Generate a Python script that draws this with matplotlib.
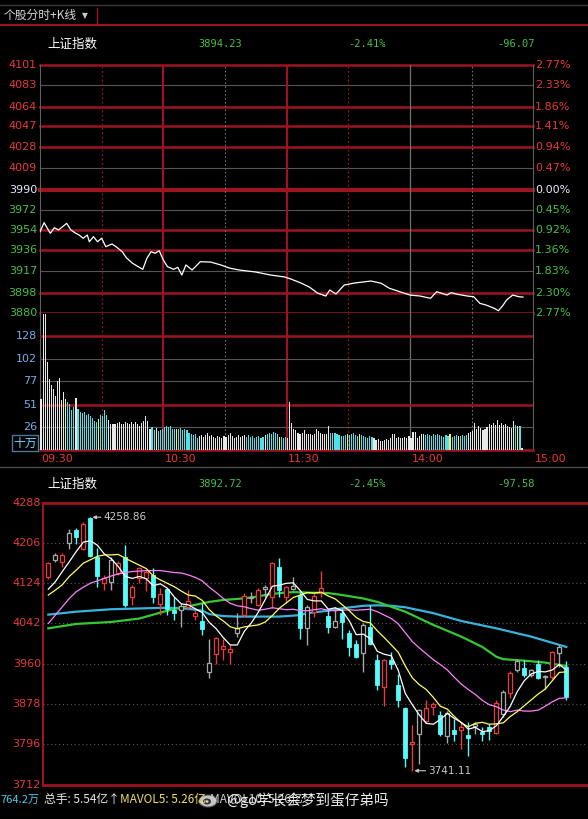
import matplotlib
matplotlib.use('Agg')
import matplotlib.pyplot as plt
from matplotlib.patches import Rectangle, Ellipse
from matplotlib.lines import Line2D

plt.rcParams['font.family'] = ['Noto Sans CJK SC', 'DejaVu Sans']

# ---- intraday (分时) data ----
intraday_levels = [4101, 4083, 4064, 4047, 4028, 4009, 3990, 3972, 3954, 3936, 3917, 3898, 3880]
intraday_pct = ['2.77%', '2.33%', '1.86%', '1.41%', '0.94%', '0.47%', '0.00%',
                '0.45%', '0.92%', '1.36%', '1.83%', '2.30%', '2.77%']
intraday_minute = [0, 2, 5, 7, 9, 13, 15, 17, 19, 21, 23, 24, 26, 28, 30, 32, 35, 37, 40, 42,
                   45, 50, 52, 54, 56, 58, 60, 62, 65, 67, 69, 71, 74, 78, 83, 88, 92, 97, 105, 112,
                   119, 122, 127, 131, 135, 139, 141, 144, 148, 153, 161, 166, 170, 180, 185, 190, 193, 198, 200, 203,
                   208, 211, 214, 217, 221, 223, 225, 227, 230, 233, 235]
intraday_price = [3952.4, 3960.5, 3951.0, 3956.0, 3954.0, 3959.9, 3954.0, 3951.5, 3949.5, 3946.6,
                  3949.5, 3943.5, 3948.0, 3943.5, 3946.6, 3939.1, 3941.5, 3939.1, 3934.6, 3929.3,
                  3924.3, 3918.9, 3928.7, 3934.6, 3933.2, 3935.5, 3927.2, 3921.3, 3918.9, 3920.7,
                  3913.9, 3922.8, 3918.3, 3925.7, 3925.4, 3922.8, 3920.1, 3918.3, 3916.5, 3913.9,
                  3912.1, 3910.3, 3906.7, 3903.2, 3897.8, 3895.1, 3900.5, 3896.9, 3904.9, 3906.7,
                  3908.5, 3906.5, 3902.0, 3896.0, 3895.1, 3893.1, 3899.0, 3896.0, 3898.1, 3896.7,
                  3895.1, 3894.5, 3888.6, 3887.1, 3884.2, 3882.0, 3886.2, 3891.6, 3896.0, 3894.5, 3894.2]
# volume per minute (十万)
minute_volume = [57, 152, 152, 99, 80, 73, 68, 60, 77, 81,
                 56, 65, 57, 54, 52, 45, 48, 58, 46, 43,
                 42, 43, 39, 40, 38, 36, 33, 31, 35, 39,
                 38, 45, 39, 34, 29, 29, 29, 30, 31, 29,
                 29, 31, 30, 29, 31, 29, 31, 29, 27, 30,
                 32, 38, 33, 24, 26, 22, 25, 21, 22, 24,
                 26, 27, 26, 27, 23, 23, 24, 24, 25, 22,
                 23, 22, 19, 18, 17, 18, 14, 16, 17, 15,
                 17, 19, 16, 17, 15, 14, 16, 15, 14, 16,
                 15, 17, 19, 16, 14, 15, 17, 15, 16, 17,
                 15, 17, 15, 16, 14, 15, 16, 14, 15, 17,
                 18, 19, 18, 20, 19, 18, 15, 15, 14, 15,
                 14, 54, 30, 24, 22, 19, 18, 19, 22, 18,
                 18, 18, 17, 18, 23, 21, 19, 18, 18, 18,
                 27, 19, 19, 19, 18, 17, 16, 16, 17, 18,
                 17, 18, 19, 17, 16, 18, 17, 16, 15, 14,
                 16, 15, 14, 11, 12, 10, 10, 11, 12, 11,
                 13, 18, 18, 14, 15, 14, 14, 15, 14, 16,
                 14, 20, 20, 14, 16, 18, 18, 17, 18, 17,
                 16, 18, 17, 18, 17, 16, 15, 17, 16, 18,
                 15, 16, 17, 16, 16, 17, 16, 17, 19, 20,
                 21, 30, 24, 27, 25, 22, 24, 26, 29, 28,
                 30, 28, 34, 28, 30, 28, 29, 27, 26, 25,
                 33, 28, 27, 27, 2]
# w = white, c = cyan, y = yellow
volume_kind = ('w' * 12 + 'y' + 'c' * 4 + 'w' + 'c' * 10 + 'y' + 'c' * 4 + 'w' * 21 + 'cc' + 'w'
               + 'c' * 9 + 'y' + 'c' * 10 + 'w' * 23 + 'c' * 9 + 'w' + 'c' * 6 + 'y' + 'c' * 3
               + 'w' * 21 + 'c' * 8 + 'y' + 'c' * 5 + 'y' + 'c' * 6 + 'w' * 25 + 'c' * 8
               + 'c' * 4 + 'y' + 'c' * 3 + 'y' + 'c' * 4 + 'w' * 23 + 'cycw')
volume_ticks = [128, 102, 77, 51, 26]
time_labels = ['09:30', '10:30', '11:30', '14:00', '15:00']
time_label_min = [0, 60, 120, 180, 240]

# ---- daily K-line data ----
k_open = [4137.6, 4171.8, 4167.0, 4206.0, 4233.3, 4194.4, 4258.0, 4177.3, 4124.0, 4127.4,
          4144.5, 4177.3, 4096.6, 4134.2, 4134.2, 4140.4, 4081.6, 4111.7, 4069.3, 4069.3,
          4074.8, 4057.0, 4046.8, 3942.9, 3980.5, 3989.4, 3983.9, 4021.6, 4059.1, 4093.2,
          4079.6, 4111.7, 4096.6, 4158.1, 4096.6, 4111.7, 4100.1, 4031.8, 4065.9, 4103.5,
          4057.0, 4035.2, 4062.5, 4021.6, 4000.6, 3981.8, 4033.9, 3968.2, 3912.2, 3966.8,
          3915.6, 3869.8, 3796.0, 3816.5, 3841.8, 3871.1, 3855.4, 3813.1, 3824.7, 3824.7,
          3814.4, 3831.5, 3819.9, 3830.1, 3817.8, 3857.5, 3899.9, 3946.3, 3951.8, 3936.1,
          3960.0, 3932.0, 3932.7, 3981.8, 3953.1]
k_high = [4168.4, 4185.5, 4185.5, 4234.7, 4236.7, 4248.3, 4258.86, 4195.7, 4141.1, 4178.6,
          4169.8, 4202.6, 4120.6, 4158.1, 4151.3, 4154.7, 4113.7, 4115.1, 4096.6, 4083.0,
          4110.3, 4069.3, 4083.0, 4011.2, 4014.6, 4011.2, 3997.6, 4062.5, 4103.5, 4106.9,
          4113.7, 4120.6, 4168.4, 4176.6, 4118.5, 4137.6, 4106.9, 4079.6, 4103.5, 4149.9,
          4069.3, 4076.1, 4072.7, 4028.3, 4007.8, 4042.0, 4079.6, 3980.5, 3970.2, 3983.9,
          3939.5, 3871.1, 3833.6, 3867.7, 3886.2, 3881.4, 3862.9, 3862.9, 3847.2, 3840.4,
          3840.4, 3840.4, 3830.1, 3835.6, 3884.9, 3905.3, 3944.9, 3970.2, 3966.8, 3949.7,
          3968.2, 3936.1, 3985.3, 3997.6, 3965.5]
k_low = [4132.9, 4168.4, 4158.1, 4193.7, 4203.9, 4192.3, 4178.6, 4117.1, 4110.3, 4110.3,
         4141.1, 4076.1, 4079.6, 4124.0, 4108.9, 4083.0, 4059.1, 4059.1, 4048.8, 4035.2,
         4069.3, 4048.8, 4018.1, 3930.6, 3960.0, 3966.8, 3958.6, 4014.6, 4055.6, 4083.0,
         4077.5, 4096.6, 4072.7, 4096.6, 4083.0, 4110.3, 4011.2, 3997.6, 4055.6, 4096.6,
         4022.9, 4031.8, 4009.2, 3975.0, 3972.3, 3942.9, 3997.6, 3905.3, 3872.5, 3949.7,
         3871.1, 3748.2, 3741.11, 3755.0, 3838.4, 3854.1, 3813.1, 3797.3, 3801.4, 3785.7,
         3772.1, 3816.5, 3801.4, 3804.2, 3816.5, 3850.6, 3890.3, 3942.9, 3932.7, 3932.7,
         3929.3, 3908.7, 3929.3, 3953.1, 3884.9]
k_close = [4165.0, 4182.1, 4182.1, 4226.5, 4218.3, 4245.6, 4180.7, 4139.0, 4134.2, 4171.8,
           4166.3, 4079.6, 4115.8, 4154.7, 4147.9, 4096.6, 4101.4, 4070.7, 4062.5, 4077.5,
           4087.8, 4062.5, 4029.7, 3962.0, 4012.6, 3996.2, 3989.4, 4031.8, 4098.7, 4096.6,
           4110.3, 4115.8, 4166.3, 4110.3, 4115.8, 4118.5, 4031.8, 4076.1, 4098.0, 4113.7,
           4033.9, 4046.8, 4045.4, 3994.1, 3973.6, 4038.6, 4000.6, 3915.6, 3966.8, 3958.6,
           3886.2, 3767.3, 3799.4, 3865.7, 3869.8, 3878.0, 3816.5, 3859.5, 3816.5, 3830.1,
           3807.6, 3835.6, 3816.5, 3823.3, 3880.1, 3901.9, 3941.5, 3965.5, 3936.1, 3947.7,
           3931.3, 3934.0, 3983.9, 3994.1, 3892.72]
# r = red hollow, c = cyan solid, g = grey hollow
k_kind = ('rgrgcrccrg' 'rcrrrcrccg' 'rrcgrrrgrg' 'rgrcrgcgrr'
          'cgcccgccrc' 'ccrgrrcgcr' 'cgccrgrgcg' 'cgrgc')

ma5 = [4112, 4127, 4148, 4168, 4189, 4208, 4211, 4202, 4184, 4174,
       4158, 4138, 4134, 4138, 4133, 4119, 4123, 4114, 4096, 4082,
       4080, 4072, 4064, 4044, 4031, 4013, 3998, 3998, 4026, 4043,
       4065, 4091, 4118, 4120, 4124, 4125, 4109, 4091, 4088, 4088,
       4071, 4074, 4068, 4047, 4019, 4020, 4011, 3985, 3979, 3976,
       3946, 3899, 3876, 3855, 3838, 3836, 3846, 3858, 3848, 3840,
       3826, 3830, 3821, 3823, 3833, 3852, 3873, 3903, 3925, 3939,
       3944, 3943, 3947, 3958, 3947]
ma10 = [4100, 4110, 4121, 4138, 4151, 4165, 4172, 4179, 4182, 4182,
        4183, 4175, 4168, 4161, 4154, 4139, 4131, 4124, 4117, 4108,
        4100, 4098, 4089, 4070, 4057, 4047, 4035, 4031, 4035, 4037,
        4039, 4045, 4058, 4073, 4084, 4095, 4100, 4105, 4104, 4106,
        4098, 4092, 4080, 4068, 4054, 4046, 4043, 4027, 4013, 3998,
        3983, 3955, 3931, 3917, 3907, 3891, 3873, 3867, 3852, 3839,
        3831, 3838, 3840, 3836, 3837, 3839, 3852, 3862, 3874, 3886,
        3898, 3908, 3925, 3942, 3943]
ma20 = [4042, 4059, 4076, 4093, 4107, 4116, 4124, 4129, 4134, 4139,
        4143, 4146, 4148, 4149, 4150, 4150, 4150, 4148, 4146, 4145,
        4141, 4136, 4129, 4116, 4105, 4093, 4083, 4078, 4076, 4072,
        4069, 4071, 4074, 4072, 4070, 4071, 4068, 4068, 4070, 4072,
        4069, 4068, 4069, 4070, 4069, 4070, 4071, 4066, 4059, 4052,
        4041, 4023, 4005, 3992, 3980, 3968, 3958, 3947, 3932, 3918,
        3907, 3897, 3885, 3876, 3872, 3865, 3862, 3865, 3863, 3863,
        3865, 3873, 3882, 3889, 3890]
ma60_idx = [1, 5, 10, 14, 16, 18, 20, 22, 24, 26, 28, 30, 32, 34, 36, 38, 41, 43, 46, 48,
            52, 56, 60, 63, 65, 66, 69, 72, 75]
ma60 = [4032, 4041, 4045, 4052, 4060, 4068, 4075, 4080, 4086, 4090, 4092, 4095, 4100, 4104,
        4106, 4105, 4104, 4100, 4093, 4086, 4066, 4039, 4015, 3994, 3974, 3969, 3966, 3962, 3955]
ma120_idx = [1, 5, 10, 15, 18, 21, 23, 24, 26, 28, 34, 37, 38, 41, 43, 46, 48, 50, 52, 56,
             60, 65, 70, 75]
ma120 = [4060, 4066, 4071, 4073, 4074, 4072, 4068, 4061, 4057, 4056, 4056, 4059, 4063, 4068,
         4073, 4078, 4079, 4078, 4075, 4063, 4047, 4032, 4015, 3994]
k_levels = [4288, 4206, 4124, 4042, 3960, 3878, 3796, 3712]

W, H = 588, 819
RED = '#e8383c'
GRID_RED = '#9c1420'
GREEN_TXT = '#48c048'
CYAN = '#54fcfc'

fig = plt.figure(figsize=(W / 100, H / 100), dpi=100)
fig.patch.set_facecolor('black')


def px_axes(x0, y0, x1, y1):
    ax = fig.add_axes([x0 / W, 1 - y1 / H, (x1 - x0) / W, (y1 - y0) / H])
    ax.set_facecolor('black')
    for s in ax.spines.values():
        s.set_visible(False)
    ax.set_xticks([])
    ax.set_yticks([])
    return ax


def ft(x, y, s, **kw):
    kw.setdefault('va', 'center')
    fig.text(x / W, 1 - y / H, s, **kw)


def fline(x0, y0, x1, y1, **kw):
    fig.add_artist(Line2D([x0 / W, x1 / W], [1 - y0 / H, 1 - y1 / H], **kw))


# toolbar
fline(0, 5, W, 5, color='#3a3a3a', lw=1)
fline(0, 24.5, W, 24.5, color=GRID_RED, lw=1.5)
fline(97, 8, 97, 23, color=GRID_RED, lw=1)
ft(4, 15, '个股分时+K线', color='#d8d8d8', fontsize=8.5)
ft(82, 15.5, '▼', color='#c8c8c8', fontsize=5.5, family='DejaVu Sans')

mono = dict(family='DejaVu Sans Mono', fontsize=7.5, color=GREEN_TXT)
ft(47, 44, '上证指数', color='white', fontsize=9)
ft(198, 44, '3894.23', **mono)
ft(348, 44, '-2.41%', **mono)
ft(497, 44, '-96.07', **mono)

# ---- intraday price panel ----
ax1 = px_axes(40, 65, 533.3, 313)
ax1.set_xlim(0, 240)
ax1.set_ylim(3880, 4101)
red_levels = {4101, 4064, 4047, 4028, 3954, 3936, 3898, 3880}
for lv, pct in zip(intraday_levels, intraday_pct):
    if lv == 3990:
        ax1.axhline(lv, color=GRID_RED, lw=3, clip_on=False, zorder=1)
        c = '#e6ecff'
    elif lv in red_levels:
        ax1.axhline(lv, color=GRID_RED, lw=1.8, clip_on=False, zorder=1)
        c = RED if lv > 3990 else GREEN_TXT
    else:
        ax1.axhline(lv, color='#555555', lw=0.8, clip_on=False, zorder=1)
        c = RED if lv > 3990 else GREEN_TXT
    ax1.text(-0.006, lv, str(lv), transform=ax1.get_yaxis_transform(), ha='right',
             va='center', color=c, fontsize=8, family='DejaVu Sans')
    ax1.text(1.004, lv, pct, transform=ax1.get_yaxis_transform(), ha='left',
             va='center', color=c, fontsize=8, family='DejaVu Sans')


def minute_vlines(ax):
    ax.axvline(0, color='#606060', lw=0.8, clip_on=False)
    ax.axvline(240, color='#606060', lw=0.8, clip_on=False)
    for m in (30, 150):
        ax.axvline(m, color=GRID_RED, lw=0.9, ls=(0, (1.5, 2)))
    for m in (90, 210):
        ax.axvline(m, color='#707070', lw=0.8, ls=(0, (1.5, 2)))
    ax.axvline(60, color=GRID_RED, lw=1.6)
    ax.axvline(120, color=GRID_RED, lw=1.6)
    ax.axvline(180, color='#707070', lw=0.9)


minute_vlines(ax1)
ax1.plot(intraday_minute, intraday_price, color='white', lw=0.9, zorder=5)

# ---- intraday volume panel ----
ax2 = px_axes(40, 313, 533.3, 450)
ax2.set_xlim(0, 240)
ax2.set_ylim(0, 153.6)
minute_vlines(ax2)
for v, red in zip(volume_ticks, (True, False, False, True, False)):
    if red:
        ax2.axhline(v, color=GRID_RED, lw=1.8)
    else:
        ax2.axhline(v, color='#555555', lw=0.8)
    ax2.text(-0.006, v, str(v), transform=ax2.get_yaxis_transform(), ha='right',
             va='center', color='#78aee8', fontsize=8, family='DejaVu Sans')
ax2.axhline(0, color=GRID_RED, lw=1.8, clip_on=False)
vcol = {'w': '#e8e8e8', 'c': '#50e0e8', 'y': '#f0f070'}
ax2.bar([m + 0.5 for m in range(len(minute_volume))], minute_volume, width=0.55,
        color=[vcol[k] for k in volume_kind], zorder=4)
ft(25, 443, '十万', color='#78d8ff', fontsize=8.5, ha='center',
   bbox=dict(boxstyle='square,pad=0.1', fc='black', ec='#4a7896', lw=1))

for lab, m in zip(time_labels, time_label_min):
    ft(40 + m * 2.055 + 1.5, 459, lab, color=RED, fontsize=8, family='DejaVu Sans')

fline(0, 467, W, 467, color='#4a4a4a', lw=1)

# ---- daily K-line panel ----
ft(47, 484, '上证指数', color='white', fontsize=9)
ft(198, 484, '3892.72', **mono)
ft(348, 484, '-2.45%', **mono)
ft(497, 484, '-97.58', **mono)

ax3 = px_axes(43, 503, 588, 785)
x_left = -(48.3 - 43) / 7
ax3.set_xlim(x_left, x_left + 545 / 7)
ax3.set_ylim(3712, 4288)
ax3.axhline(4288, color=GRID_RED, lw=2, clip_on=False)
ax3.axhline(3712, color=GRID_RED, lw=2, clip_on=False)
ax3.axvline(x_left, color=GRID_RED, lw=1.5, clip_on=False)
for lv in k_levels:
    if lv not in (4288, 3712):
        ax3.axhline(lv, color='#5a5a5a', lw=0.8, ls=(0, (1, 2.5)))
    ax3.text(-0.004, lv, str(lv), transform=ax3.get_yaxis_transform(), ha='right',
             va='center', color=RED, fontsize=8, family='DejaVu Sans')

kcol = {'r': '#ee3a3a', 'c': CYAN, 'g': '#a8a8a8'}
bw = 0.62
for i, (o, h, l, c, k) in enumerate(zip(k_open, k_high, k_low, k_close, k_kind)):
    col = kcol[k]
    top, bot = max(o, c), min(o, c)
    if k == 'c':
        ax3.vlines(i, l, h, color=col, lw=1, zorder=4)
        ax3.add_patch(Rectangle((i - bw / 2, bot), bw, max(top - bot, 1.2), fc=col, ec=col,
                                lw=0.6, zorder=5))
    else:
        ax3.vlines(i, top, h, color=col, lw=1, zorder=4)
        ax3.vlines(i, l, bot, color=col, lw=1, zorder=4)
        if top - bot < 2:
            ax3.hlines(c, i - bw / 2, i + bw / 2, color=col, lw=1, zorder=5)
        else:
            ax3.add_patch(Rectangle((i - bw / 2, bot), bw, top - bot, fc='black', ec=col,
                                    lw=0.9, zorder=5))

xs = list(range(len(ma5)))
ax3.plot([i - 1 for i in ma120_idx], ma120, color='#38b4dc', lw=1.6, zorder=3)
ax3.plot([i - 1 for i in ma60_idx], ma60, color='#34c834', lw=1.6, zorder=3)
ax3.plot(xs, ma20, color='#ff80ff', lw=0.9, zorder=6)
ax3.plot(xs, ma10, color='#ffff60', lw=0.9, zorder=6)
ax3.plot(xs, ma5, color='white', lw=0.9, zorder=6)

hi_i = k_high.index(max(k_high))
lo_i = k_low.index(min(k_low))
ax3.annotate('%.2f' % k_high[hi_i], xy=(hi_i + 0.3, k_high[hi_i]), xytext=(hi_i + 1.9, k_high[hi_i]),
             color='#c8c8c8', fontsize=7.5, family='DejaVu Sans', va='center',
             arrowprops=dict(arrowstyle='-|>', color='#c8c8c8', lw=0.8, mutation_scale=5,
                             shrinkA=0, shrinkB=0))
ax3.annotate('%.2f' % k_low[lo_i], xy=(lo_i + 0.3, k_low[lo_i]), xytext=(lo_i + 2.3, k_low[lo_i]),
             color='#c8c8c8', fontsize=7.5, family='DejaVu Sans', va='center',
             arrowprops=dict(arrowstyle='-|>', color='#c8c8c8', lw=0.8, mutation_scale=5,
                             shrinkA=0, shrinkB=0))

# ---- bottom status row ----
ft(0.5, 800, '764.2万', color='#50c8e8', fontsize=8)
ft(44, 800, '总手: 5.54亿↑', color='#e8e8e8', fontsize=8.5)
ft(120, 800, 'MAVOL5: 5.26亿', color='#f0e060', fontsize=8.5)
ft(210, 800, 'MAVOL10: 5.26亿', color='#d0d0d0', fontsize=8.5)
# weibo-style watermark mark
logo = fig.add_axes([197 / W, 1 - 809 / H, 24 / W, 18 / H])
logo.set_xlim(0, 24)
logo.set_ylim(0, 18)
logo.axis('off')
logo.add_patch(Ellipse((11, 8), 18, 12, fc='#d8d8d8', ec='#555555', lw=0.8, alpha=0.9))
logo.add_patch(Ellipse((10, 7.5), 8, 6, fc='#333333', ec='none'))
logo.add_patch(Ellipse((10, 7.5), 3, 2.5, fc='#d8d8d8', ec='none'))
ft(226, 800, '@go学长会梦到蛋仔弟吗', color='white', fontsize=10.5, alpha=0.92)

fig.savefig('out.png', dpi=100, facecolor='black')
